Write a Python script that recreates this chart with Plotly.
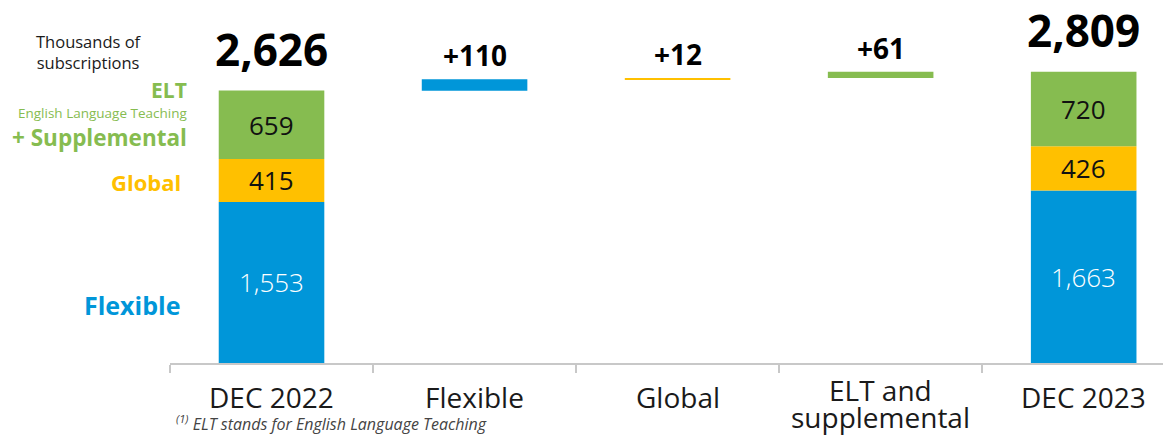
import plotly.graph_objects as go

categories = ["DEC 2022", "Flexible", "Global", "ELT and supplemental", "DEC 2023"]
tick_labels = ["DEC 2022", "Flexible", "Global", "ELT and<br>supplemental", "DEC 2023"]
start_values = {"Flexible": 1553, "Global": 415, "ELT": 659}
end_values = {"Flexible": 1663, "Global": 426, "ELT": 720}
deltas = {"Flexible": 110, "Global": 12, "ELT": 61}
total_start = 2626
total_end = 2809

colors = {"Flexible": "#0096D9", "Global": "#FFC000", "ELT": "#86BC50"}
inner_text_color = {"Flexible": "white", "Global": "#111111", "ELT": "#111111"}
series = ["Flexible", "Global", "ELT"]
delta_cat = {"Flexible": categories[1], "Global": categories[2], "ELT": categories[3]}

FONT = "Open Sans"

# page geometry (the page body adds an 8px margin around the figure)
OFF = 8
W, H = 1171 - 2 * OFF, 443 - 2 * OFF
ML, MT = 170 - OFF, 0
PLOT_BOTTOM_PAGE = 363
MB = H - (PLOT_BOTTOM_PAGE - OFF)
PW, PH = W - ML, H - MT - MB
PX_PER_UNIT = 0.1037
CAT_PX = 203.04


def px(xp):
    return (xp - OFF - ML) / PW


def py(yp):
    return (H - MB - (yp - OFF)) / PH


fig = go.Figure()

base_start = 0
base_end = 0
running = total_start
annotations = []
for s in series:
    x = [categories[0], delta_cat[s], categories[4]]
    y = [start_values[s], deltas[s], end_values[s]]
    base = [base_start, running, base_end]
    fig.add_trace(go.Bar(
        x=x, y=y, base=base, width=0.52,
        marker=dict(color=colors[s], line=dict(width=0)),
        hoverinfo="skip", showlegend=False,
    ))
    for cat, val, b in [(categories[0], start_values[s], base_start), (categories[4], end_values[s], base_end)]:
        annotations.append(dict(
            x=cat, y=b + val / 2, xref="x", yref="y", text=f"{val:,}", showarrow=False,
            font=dict(family=FONT, size=26, color=inner_text_color[s],
                      weight=300 if s == "Flexible" else 400),
            yanchor="middle",
        ))
    annotations.append(dict(
        x=delta_cat[s], y=running + deltas[s], xref="x", yref="y", text=f"<b>+{deltas[s]}</b>",
        showarrow=False, font=dict(family=FONT, size=28, color="#000000"),
        yanchor="middle", yshift=24,
    ))
    base_start += start_values[s]
    base_end += end_values[s]
    running += deltas[s]

for cat, tot in [(categories[0], total_start), (categories[4], total_end)]:
    annotations.append(dict(
        x=cat, y=tot, xref="x", yref="y", text=f"<b>{tot:,}</b>", showarrow=False,
        font=dict(family=FONT, size=44, color="#000000"), yanchor="middle", yshift=42,
    ))

# category labels under the axis
for cat, lab in zip(categories, tick_labels):
    lines = lab.split("<br>")
    y0 = 397 if len(lines) == 1 else 390
    for i, line in enumerate(lines):
        annotations.append(dict(
            x=cat, y=py(y0 + 26.5 * i), xref="x", yref="paper", text=line, showarrow=False,
            font=dict(family=FONT, size=28, color="#1a1a1a"), yanchor="middle",
        ))

left_labels = [
    ("Thousands of<br>subscriptions", 144, 52, 16.5, "#1a1a1a", False),
    ("ELT", 189, 90, 21, colors["ELT"], True),
    ("English Language Teaching", 189, 112.5, 13.5, colors["ELT"], False),
    ("+ Supplemental", 189, 137, 22.5, colors["ELT"], True),
    ("Global", 183, 182, 22, colors["Global"], True),
    ("Flexible", 182, 305, 25, colors["Flexible"], True),
]
for text, xr, yc, size, col, bold in left_labels:
    annotations.append(dict(
        x=px(xr), y=py(yc), xref="paper", yref="paper",
        text=f"<b>{text}</b>" if bold else text, showarrow=False,
        xanchor="right", yanchor="middle", align="center" if "Thousands" in text else "right",
        font=dict(family=FONT, size=size, color=col),
    ))

annotations.append(dict(
    x=px(174), y=py(423), xref="paper", yref="paper", xanchor="left", yanchor="middle",
    text="<i><sup>(1)</sup> ELT stands for English Language Teaching</i>", showarrow=False,
    font=dict(family=FONT, size=16, color="#444444"),
))

fig.update_layout(
    width=W, height=H,
    margin=dict(l=ML, r=0, t=MT, b=MB, pad=0),
    paper_bgcolor="white", plot_bgcolor="white",
    barmode="overlay",
    annotations=annotations,
    xaxis=dict(
        type="category", categoryorder="array", categoryarray=categories,
        range=[-0.5, -0.5 + PW / CAT_PX], showgrid=False, zeroline=False,
        showline=True, linecolor="#C8C8C8", linewidth=2,
        ticks="outside", tickson="boundaries", ticklen=8, tickcolor="#C8C8C8", tickwidth=2,
        showticklabels=False,
    ),
    yaxis=dict(range=[0, PH / PX_PER_UNIT], visible=False, fixedrange=True),
)

fig.write_html("out.html")
